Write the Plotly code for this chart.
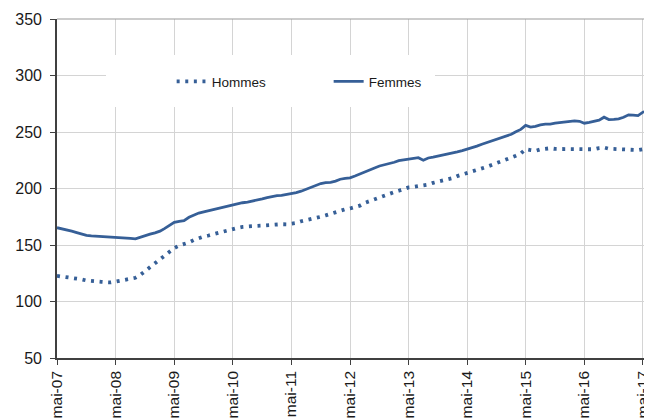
import pandas as pd
import plotly.graph_objects as go

start_month = "2007-05-01"

hommes = [
    122.7, 122.2, 121.4, 121.0, 120.9, 119.6, 118.6, 118.0, 117.6, 117.4, 117.1, 116.9,
    117.6, 118.5, 119.3, 120.0, 121.0, 123.5, 127.0, 129.5, 133.0, 136.5, 140.0, 143.0,
    147.3, 149.5, 150.6, 152.3, 154.5, 156.3, 157.5, 158.4, 159.6, 161.0, 162.0, 163.6,
    164.5, 165.2, 166.0, 166.6, 167.0, 167.0, 167.2, 167.6, 168.0, 168.4, 168.4, 168.3,
    168.6, 169.5, 171.0, 171.8, 172.6, 174.0, 175.0, 176.2, 177.6, 179.2, 180.3, 181.6,
    182.3, 183.2, 184.8, 187.3, 189.0, 190.6, 192.6, 194.2, 195.5, 196.8, 198.0, 199.6,
    201.0, 201.4, 202.0, 202.3, 203.5, 205.0, 205.9, 207.2, 208.0, 209.2, 211.0, 212.3,
    213.4, 214.9, 216.2, 217.6, 219.2, 220.8, 222.3, 224.5, 226.0, 227.5, 229.0, 231.0,
    234.8, 234.0, 233.3, 234.6, 235.3, 235.6, 235.0, 234.9, 235.3, 235.3, 235.2, 235.0,
    234.7, 234.6, 234.7, 235.8, 236.3, 235.2, 235.0, 235.0, 234.9, 234.8, 234.2, 234.0,
    234.8, 235.0,
]

femmes = [
    165.3, 164.5, 163.3, 162.3, 161.0, 159.5, 158.6, 158.0, 157.8, 157.5, 157.3, 157.1,
    157.0, 156.6, 156.2, 155.8, 155.5, 157.0, 158.6, 159.6, 160.8, 162.3, 164.5, 167.0,
    170.0, 171.0, 171.5, 174.5, 176.5, 178.3, 179.3, 180.3, 181.5, 182.6, 183.5, 185.0,
    185.8, 186.6, 187.4, 188.0, 188.8, 189.6, 190.8, 192.0, 193.0, 193.6, 194.0, 194.6,
    195.2, 196.4, 197.6, 199.3, 201.5, 203.0, 204.4, 205.2, 205.5, 206.5, 208.2, 209.0,
    209.4, 211.0, 212.6, 214.5, 216.4, 218.2, 219.9, 220.8, 221.7, 223.2, 224.6, 225.4,
    226.2, 226.8, 227.3, 225.0, 227.0, 227.8, 228.9, 229.8, 230.6, 231.5, 232.5, 233.6,
    234.8, 236.0, 237.5, 239.2, 240.6, 242.0, 243.6, 245.1, 246.6, 248.0, 250.2, 252.3,
    255.8, 254.3, 255.0, 256.3, 256.9, 257.0, 257.8, 258.3, 258.8, 259.6, 259.8, 259.5,
    257.8, 258.6, 259.2, 260.5, 263.1, 261.0, 261.2, 261.6, 263.0, 265.2, 265.0, 264.5,
    267.5, 268.7,
]

tick_dates = ["2007-05-01", "2008-05-01", "2009-05-01", "2010-05-01", "2011-05-01", "2012-05-01",
              "2013-05-01", "2014-05-01", "2015-05-01", "2016-05-01", "2017-05-01"]
tick_labels = ["mai-07", "mai-08", "mai-09", "mai-10", "mai-11", "mai-12",
               "mai-13", "mai-14", "mai-15", "mai-16", "mai-17"]
y_ticks = [50, 100, 150, 200, 250, 300, 350]

dates = pd.date_range(start_month, periods=len(femmes), freq="MS")

blue = "#365F97"
font = "Liberation Sans, Arial, sans-serif"

fig = go.Figure()
fig.add_trace(go.Scatter(x=dates, y=hommes, mode="lines", name="Hommes",
                         line=dict(color=blue, width=3.8, dash="3px,5.6px")))
fig.add_trace(go.Scatter(x=dates, y=femmes, mode="lines", name="Femmes",
                         line=dict(color=blue, width=2.8)))

# The page body has an 8px default margin, so the figure is sized to fit the window.
fig.update_layout(
    width=644, height=410,
    margin=dict(l=49, r=4, t=11, b=60),
    paper_bgcolor="white", plot_bgcolor="white",
    font=dict(family=font, size=15, color="#1a1a1a"),
    showlegend=True,
    legend=dict(orientation="h", x=0.194, xanchor="left", y=0.8156, yanchor="middle",
                bgcolor="rgba(0,0,0,0)", font=dict(size=13.5, color="#1a1a1a"),
                entrywidth=112, itemwidth=30),
    xaxis=dict(type="date", range=["2007-05-01", "2017-06-02"], automargin=False,
               tickvals=tick_dates, ticktext=tick_labels, tickangle=-90,
               showgrid=True, gridcolor="#d4d4d4", gridwidth=1,
               showline=True, linecolor="#404040", linewidth=1.6,
               ticks="outside", ticklen=5, tickcolor="#404040",
               tickfont=dict(size=15.5), zeroline=False),
    yaxis=dict(range=[50, 350], tickvals=y_ticks, automargin=False,
               showgrid=True, gridcolor="#d4d4d4", gridwidth=1,
               showline=True, linecolor="#404040", linewidth=1.6,
               ticks="outside", ticklen=5, tickcolor="#404040",
               ticklabelstandoff=5,
               tickfont=dict(size=16), zeroline=False),
    shapes=[
        dict(type="rect", xref="paper", yref="paper",
             x0=(106 - 57) / 591, x1=(435 - 57) / 591,
             y0=1 - (107 - 19) / 339, y1=1 - (55 - 19) / 339,
             fillcolor="white", line=dict(width=0), layer="above"),
        dict(type="line", xref="paper", yref="paper", x0=0, x1=1, y0=1, y1=1,
             line=dict(color="#9a9a9a", width=1.2)),
        dict(type="line", xref="paper", yref="paper", x0=1, x1=1, y0=0, y1=1,
             line=dict(color="#9a9a9a", width=1.2)),
    ],
)

fig.write_html("out.html")
